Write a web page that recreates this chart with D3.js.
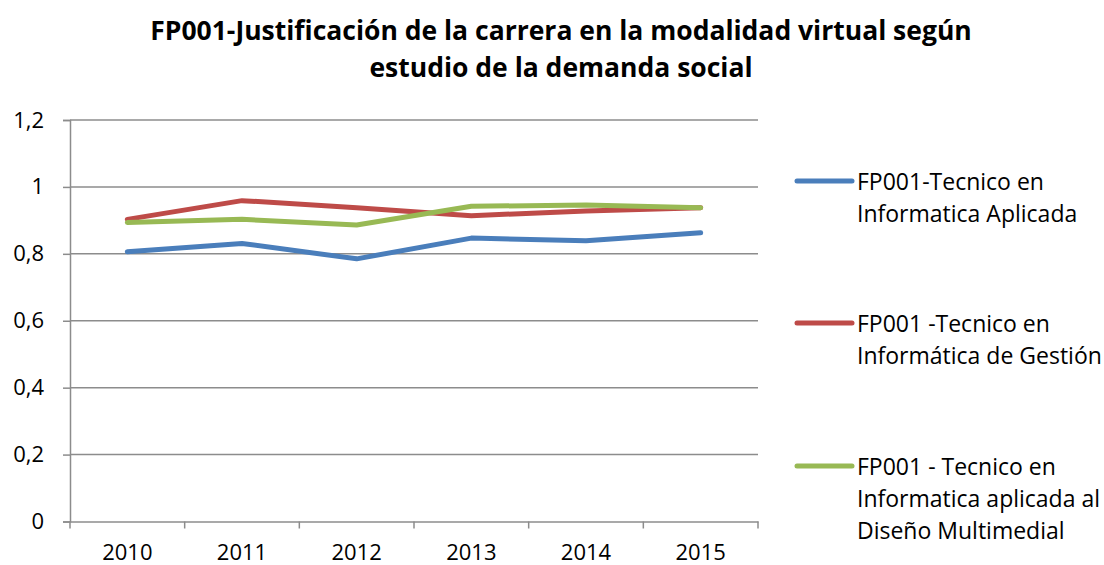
<!DOCTYPE html>
<html>
<head>
<meta charset="utf-8">
<script src="https://cdn.jsdelivr.net/npm/d3@7"></script>
<style>
  body { margin: 0; background: #fff; }
  svg text { font-family: "Open Sans", sans-serif; fill: #000; }
</style>
</head>
<body>
<div id="chart"></div>
<script>
// data
var years = ["2010", "2011", "2012", "2013", "2014", "2015"];
var aplicada = [0.806, 0.831, 0.785, 0.847, 0.839, 0.863];
var gestion = [0.903, 0.959, 0.938, 0.914, 0.928, 0.938];
var multimedial = [0.894, 0.903, 0.886, 0.942, 0.946, 0.938];
var seriesNames = [
  ["FP001-Tecnico en", "Informatica Aplicada"],
  ["FP001 -Tecnico en", "Informática de Gestión"],
  ["FP001 - Tecnico en", "Informatica aplicada al", "Diseño Multimedial"]
];
var yTicks = [0, 0.2, 0.4, 0.6, 0.8, 1, 1.2];
var titleLines = ["FP001-Justificación de la carrera en la modalidad virtual según", "estudio de la demanda social"];

var colors = ["#4a7ebb", "#be4b48", "#98b954"];
var allSeries = [aplicada, gestion, multimedial];

var svgWidth = 1104, svgHeight = 565;
var margin = {top: 120, right: 346, bottom: 43.5, left: 70};
var chartWidth = svgWidth - margin.left - margin.right;
var chartHeight = svgHeight - margin.top - margin.bottom;

var svg = d3.select("#chart").append("svg")
  .attr("width", svgWidth)
  .attr("height", svgHeight);

// title
svg.append("g").selectAll("text")
  .data(titleLines)
  .enter().append("text")
  .attr("x", 561)
  .attr("y", (d, i) => 40 + i * 37)
  .attr("text-anchor", "middle")
  .attr("font-size", 26.5)
  .attr("font-weight", "bold")
  .text(d => d);

var chartGroup = svg.append("g")
  .attr("transform", `translate(${margin.left}, ${margin.top})`);

var x = d3.scaleBand().domain(years).range([0, chartWidth]);
var y = d3.scaleLinear().domain([0, 1.2]).range([chartHeight, 0]);

// gridlines
chartGroup.append("g")
  .selectAll("line")
  .data(yTicks.filter(d => d > 0))
  .enter().append("line")
  .attr("x1", 0)
  .attr("x2", chartWidth)
  .attr("y1", d => y(d))
  .attr("y2", d => y(d))
  .attr("stroke", "#8c8c8c")
  .attr("stroke-width", 1.5);

// axes
var yAxis = d3.axisLeft(y).tickValues(yTicks).tickSize(7).tickPadding(19)
  .tickFormat(d => String(d).replace(".", ","));
var yG = chartGroup.append("g").call(yAxis);
yG.selectAll("text").attr("font-size", 22);

// x axis with ticks between categories
var xAxis = d3.axisBottom(x).tickSize(0).tickPadding(22.5);
var xG = chartGroup.append("g")
  .attr("transform", `translate(0, ${chartHeight})`)
  .call(xAxis);
xG.selectAll("text").attr("font-size", 22);
xG.append("g").selectAll("line")
  .data(years.concat(["end"]))
  .enter().append("line")
  .attr("x1", (d, i) => i * x.step())
  .attr("x2", (d, i) => i * x.step())
  .attr("y1", 0)
  .attr("y2", 7)
  .attr("stroke", "#8c8c8c")
  .attr("stroke-width", 1.5);

[yG, xG].forEach(g => {
  g.select(".domain").attr("stroke", "#8c8c8c").attr("stroke-width", 1.5);
  g.selectAll(".tick line").attr("stroke", "#8c8c8c").attr("stroke-width", 1.5);
  g.selectAll("text").attr("font-family", "'Open Sans', sans-serif").attr("fill", "#000");
});

// lines
var line = d3.line()
  .x((d, i) => x(years[i]) + x.bandwidth() / 2)
  .y(d => y(d));

chartGroup.append("g").selectAll("path")
  .data(allSeries)
  .enter().append("path")
  .attr("d", d => line(d))
  .attr("fill", "none")
  .attr("stroke", (d, i) => colors[i])
  .attr("stroke-width", 5)
  .attr("stroke-linejoin", "round")
  .attr("stroke-linecap", "round");

// legend
var legendTops = [181, 323, 466];
var legend = svg.append("g").selectAll("g")
  .data(seriesNames)
  .enter().append("g")
  .attr("transform", (d, i) => `translate(797, ${legendTops[i]})`);

legend.append("line")
  .attr("x1", 0).attr("x2", 55)
  .attr("y1", 0).attr("y2", 0)
  .attr("stroke", (d, i) => colors[i])
  .attr("stroke-width", 5)
  .attr("stroke-linecap", "round");

legend.each(function(lines) {
  d3.select(this).selectAll("text")
    .data(lines)
    .enter().append("text")
    .attr("x", 60)
    .attr("y", (d, i) => 8.5 + i * 32)
    .attr("font-size", 23)
    .text(d => d);
});
</script>
</body>
</html>
